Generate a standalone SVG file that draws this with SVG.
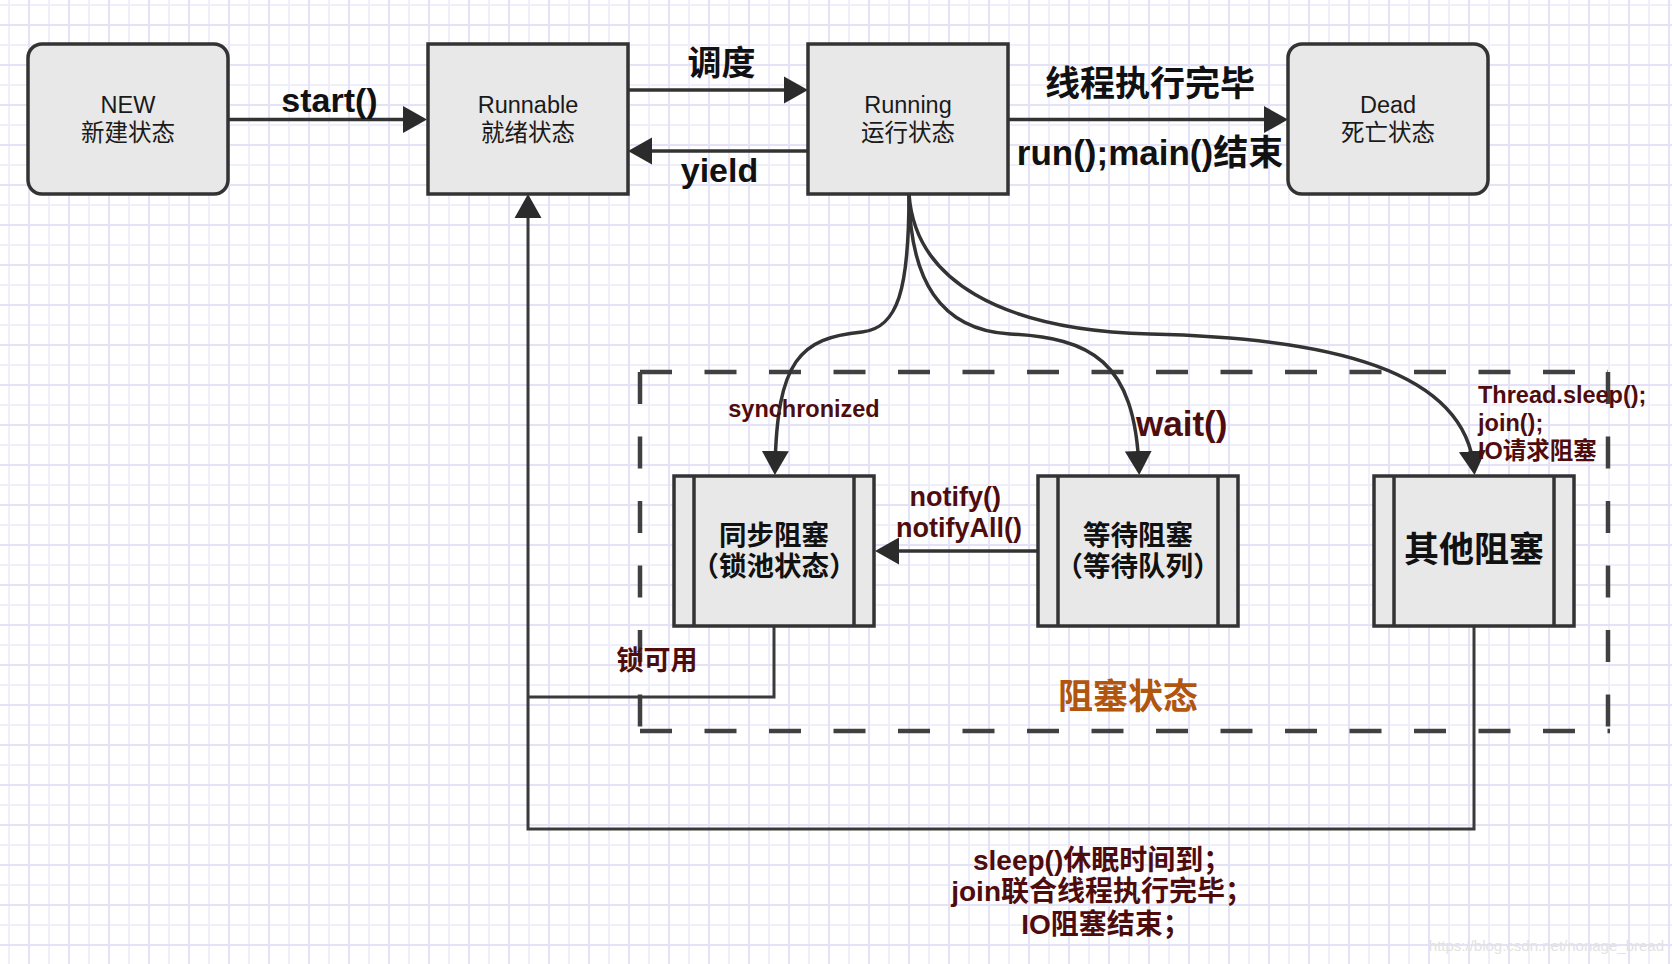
<svg xmlns="http://www.w3.org/2000/svg" width="1672" height="964" viewBox="0 0 1672 964">
<defs>
  <pattern id="grid" width="40" height="40" patternUnits="userSpaceOnUse" x="8" y="4">
    <path d="M0 1 H40 M1 0 V40" stroke="#efeefb" stroke-width="2" fill="none"/>
    <path d="M0 21 H40 M21 0 V40" stroke="#e4e2f7" stroke-width="2" fill="none"/>
  </pattern>
  <marker id="arr" markerUnits="userSpaceOnUse" markerWidth="26" markerHeight="28" refX="18" refY="14" orient="auto">
    <path d="M0,0.5 L24,14 L0,27.5 Z" fill="#2b2b2b"/>
  </marker>
  <style>
    .box { fill: #e8e8e8; stroke: #333; stroke-width: 3.5; }
    .bar { stroke: #333; stroke-width: 3.5; fill: none; }
    .edge { fill: none; stroke: #333; stroke-width: 3.5; }
    .loop { fill: none; stroke: #3a3a3a; stroke-width: 3; }
    .dash { stroke: #404040; stroke-width: 4.5; stroke-dasharray: 32 32.5; fill: none; }
    text { font-family: "Liberation Sans", "Noto Sans CJK SC", sans-serif; }
    .lbl { font-size: 23.5px; fill: #1a1a1a; text-anchor: middle; }
    .big { font-size: 34px; font-weight: bold; fill: #111; text-anchor: middle; }
    .red { font-weight: bold; fill: #4e0c0c; }
    .blk { font-size: 27.5px; font-weight: bold; fill: #111; text-anchor: middle; }
  </style>
</defs>
<rect width="1672" height="964" fill="#ffffff"/>
<rect width="1672" height="964" fill="url(#grid)"/>

<g id="blocked-region">
  <line class="dash" x1="640" y1="372" x2="1608" y2="372"/>
  <line class="dash" x1="640" y1="731" x2="1610" y2="731"/>
  <line class="dash" x1="640" y1="372" x2="640" y2="731"/>
  <line class="dash" x1="1608" y1="372" x2="1608" y2="731"/>
  <text x="1128" y="709" style="font-size:35px;font-weight:bold;fill:#b0560f;text-anchor:middle">阻塞状态</text>
</g>

<g id="connectors">
  <path class="edge" d="M229,119.5 H421" marker-end="url(#arr)"/>
  <text x="329.5" y="111.5" class="big">start()</text>
  <path class="edge" d="M628,90 H802" marker-end="url(#arr)"/>
  <text x="721.5" y="75" class="big">调度</text>
  <path class="edge" d="M808,151 H634" marker-end="url(#arr)"/>
  <text x="719.5" y="182" class="big">yield</text>
  <path class="edge" d="M1008,119.5 H1282" marker-end="url(#arr)"/>
  <text x="1150" y="96" class="big" style="font-size:35px">线程执行完毕</text>
  <text x="1150" y="165" class="big" style="font-size:35px">run();main()结束</text>

  <path class="edge" d="M909,194 C909,290 898,328 862,332 C800,338 777,360 775,469" marker-end="url(#arr)"/>
  <text x="804" y="417" class="red" style="font-size:23.5px;text-anchor:middle">synchronized</text>
  <path class="edge" d="M909,194 C910,280 940,330 1010,334 C1090,338 1135,360 1139,469" marker-end="url(#arr)"/>
  <text x="1136" y="436" class="red" style="font-size:35px">wait()</text>
  <path class="edge" d="M909,194 C915,280 1000,330 1150,334 C1330,338 1465,370 1474,469" marker-end="url(#arr)"/>
  <text class="red" style="font-size:23.5px">
    <tspan x="1478" y="403">Thread.sleep();</tspan>
    <tspan x="1478" y="431">join();</tspan>
    <tspan x="1478" y="459">IO请求阻塞</tspan>
  </text>

  <path class="edge" d="M1038,551 H881" marker-end="url(#arr)"/>
  <text class="red" style="font-size:27px;text-anchor:middle">
    <tspan x="959" y="506">notify()</tspan>
    <tspan x="959" y="537">notifyAll()</tspan>
  </text>

  <path class="loop" d="M774,626 V697 H528"/>
  <text x="657" y="670" class="red" style="font-size:27px;text-anchor:middle">锁可用</text>
  <path class="loop" d="M1474,626 V829 H528 V200" marker-end="url(#arr)"/>
  <text class="red" style="font-size:28px;text-anchor:middle">
    <tspan x="1106" y="870">sleep()休眠时间到；</tspan>
    <tspan x="1106" y="901">join联合线程执行完毕；</tspan>
    <tspan x="1106" y="934">IO阻塞结束；</tspan>
  </text>
</g>

<g id="new">
  <rect class="box" x="28" y="44" width="200" height="150" rx="14"/>
  <text x="128" y="113" class="lbl">NEW</text>
  <text x="128" y="141" class="lbl">新建状态</text>
</g>
<g id="runnable">
  <rect class="box" x="428" y="44" width="200" height="150"/>
  <text x="528" y="113" class="lbl">Runnable</text>
  <text x="528" y="141" class="lbl">就绪状态</text>
</g>
<g id="running">
  <rect class="box" x="808" y="44" width="200" height="150"/>
  <text x="908" y="113" class="lbl">Running</text>
  <text x="908" y="141" class="lbl">运行状态</text>
</g>
<g id="dead">
  <rect class="box" x="1288" y="44" width="200" height="150" rx="14"/>
  <text x="1388" y="113" class="lbl">Dead</text>
  <text x="1388" y="141" class="lbl">死亡状态</text>
</g>
<g id="sync-block">
  <rect class="box" x="674" y="476" width="200" height="150"/>
  <path class="bar" d="M694,476 V626 M854,476 V626"/>
  <text x="774" y="545" class="blk">同步阻塞</text>
  <text x="774" y="576" class="blk">（锁池状态）</text>
</g>
<g id="wait-block">
  <rect class="box" x="1038" y="476" width="200" height="150"/>
  <path class="bar" d="M1058,476 V626 M1218,476 V626"/>
  <text x="1138" y="545" class="blk">等待阻塞</text>
  <text x="1138" y="576" class="blk">（等待队列）</text>
</g>
<g id="other-block">
  <rect class="box" x="1374" y="476" width="200" height="150"/>
  <path class="bar" d="M1394,476 V626 M1554,476 V626"/>
  <text x="1474" y="562" class="blk" style="font-size:35px">其他阻塞</text>
</g>

<text x="1664" y="951" style="font-size:15px;fill:#e2e2e2;text-anchor:end">https://blog.csdn.net/nonage_bread</text>
</svg>
